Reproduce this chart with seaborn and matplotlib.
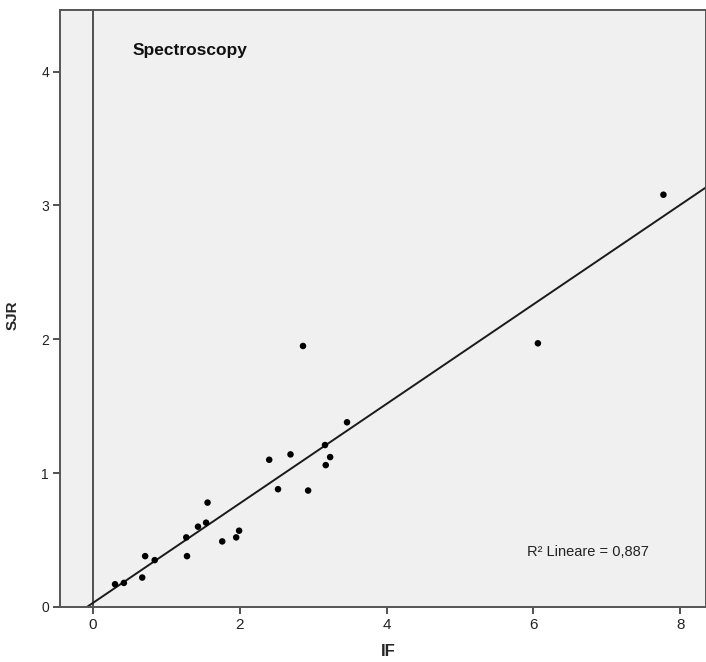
import numpy as np
import pandas as pd
import matplotlib
matplotlib.use("Agg")
import matplotlib.pyplot as plt
import seaborn as sns

# Impact factor (IF) and SCImago Journal Rank (SJR) for spectroscopy journals
impact_factor = [7.77, 6.06, 2.86, 3.46, 3.16, 2.40, 2.69, 3.23, 3.17, 2.52,
                 2.93, 1.56, 1.54, 1.43, 1.99, 1.95, 1.76, 1.27, 1.28, 0.71,
                 0.84, 0.67, 0.30, 0.42]
sjr = [3.08, 1.97, 1.95, 1.38, 1.21, 1.10, 1.14, 1.12, 1.06, 0.88,
       0.87, 0.78, 0.63, 0.60, 0.57, 0.52, 0.49, 0.52, 0.38, 0.38,
       0.35, 0.22, 0.17, 0.18]
x_ticks = [0, 2, 4, 6, 8]
y_ticks = [0, 1, 2, 3, 4]
r_squared = 0.887
panel_title = "Spectroscopy"

df = pd.DataFrame({"IF": impact_factor, "SJR": sjr})

sns.set_style("white")
plt.rcParams["font.family"] = ["Liberation Sans", "DejaVu Sans"]
narrow = ["Liberation Sans Narrow", "Liberation Sans", "DejaVu Sans"]

fig = plt.figure(figsize=(7.06, 6.62), dpi=100)
ax = fig.add_axes([60 / 706, 55 / 662, 646 / 706, 597 / 662])
ax.set_facecolor("#f0f0f0")
ax.set_xlim(-0.45, 8.35)
ax.set_ylim(0, 4.46)

# reference line at IF = 0
ax.axvline(0, color="#505050", lw=1.4, zorder=1)

# least-squares fit line across the full axis range
sns.regplot(data=df, x="IF", y="SJR", ax=ax, scatter=False, ci=None,
            truncate=False, line_kws={"color": "#1a1a1a", "lw": 1.4, "zorder": 2})
sns.scatterplot(data=df, x="IF", y="SJR", ax=ax, color="black", s=22,
                edgecolor="none", zorder=3)
ax.set_xlim(-0.45, 8.35)
ax.set_ylim(0, 4.46)

ax.set_xticks(x_ticks)
ax.set_yticks(y_ticks)
ax.tick_params(axis="both", direction="out", length=5, width=1.2,
               color="#333333", labelsize=10, labelcolor="#222222", pad=3,
               bottom=True, left=True)
for lbl in ax.get_xticklabels():
    lbl.set_family(narrow)
    lbl.set_fontsize(11)

for side in ["left", "bottom", "top", "right"]:
    ax.spines[side].set_color("#555555")
    ax.spines[side].set_linewidth(1.4)

ax.set_xlabel("IF", fontsize=12, fontweight="bold", family=narrow)
ax.set_ylabel("SJR", fontsize=11, fontweight="bold", family=narrow)
ax.xaxis.set_label_coords(0.508, -0.075)
ax.yaxis.set_label_coords(-0.073, 0.489)
ax.xaxis.label.set_va("center")
ax.yaxis.label.set_va("center")

ax.text(0.54, 4.16, panel_title, fontsize=12.5, fontweight="bold",
        color="#111111", va="center", ha="left")
ax.text(5.91, 0.41, "R² Lineare = " + f"{r_squared:.3f}".replace(".", ","),
        fontsize=10.5, color="#222222", va="center", ha="left")

fig.savefig("out.png", dpi=100, facecolor="white")
